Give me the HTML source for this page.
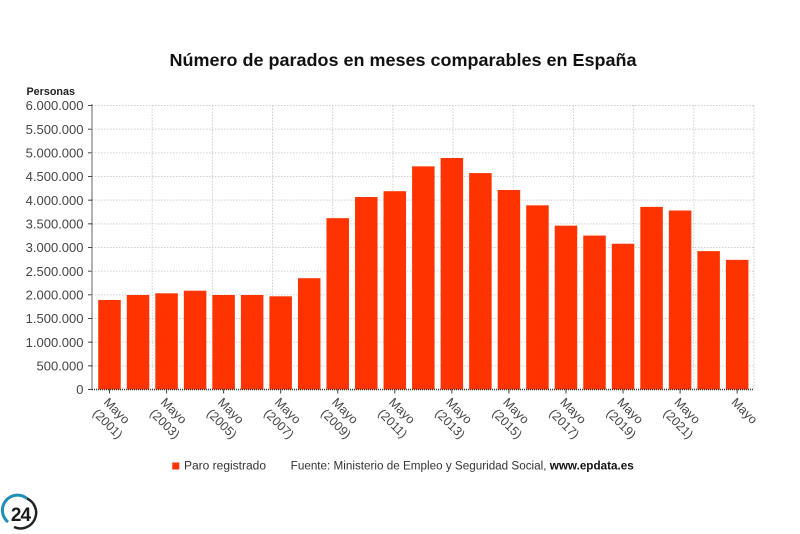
<!DOCTYPE html>
<html><head><meta charset="utf-8"><style>
html,body{margin:0;padding:0;background:#fff;}
svg{display:block;}
text{font-family:"Liberation Sans",sans-serif;}
</style></head><body>
<svg width="800" height="534" viewBox="0 0 800 534" xmlns="http://www.w3.org/2000/svg">
<rect width="800" height="534" fill="#fff"/>
<text x="403" y="66" text-anchor="middle" font-size="17.5" font-weight="bold" fill="#111" textLength="467" lengthAdjust="spacingAndGlyphs">Número de parados en meses comparables en España</text>
<text x="26.5" y="95" font-size="11" font-weight="bold" fill="#222" textLength="48.5" lengthAdjust="spacingAndGlyphs">Personas</text>
<g stroke="#cfcfcf" stroke-width="1" stroke-dasharray="1.5 1.5" fill="none">
<line x1="92" y1="105.5" x2="754" y2="105.5"/>
<line x1="92" y1="129.17" x2="754" y2="129.17"/>
<line x1="92" y1="152.83" x2="754" y2="152.83"/>
<line x1="92" y1="176.5" x2="754" y2="176.5"/>
<line x1="92" y1="200.17" x2="754" y2="200.17"/>
<line x1="92" y1="223.83" x2="754" y2="223.83"/>
<line x1="92" y1="247.5" x2="754" y2="247.5"/>
<line x1="92" y1="271.17" x2="754" y2="271.17"/>
<line x1="92" y1="294.83" x2="754" y2="294.83"/>
<line x1="92" y1="318.5" x2="754" y2="318.5"/>
<line x1="92" y1="342.17" x2="754" y2="342.17"/>
<line x1="92" y1="365.83" x2="754" y2="365.83"/>
<line x1="152.2" y1="105.5" x2="152.2" y2="389.5"/>
<line x1="212.4" y1="105.5" x2="212.4" y2="389.5"/>
<line x1="272.5" y1="105.5" x2="272.5" y2="389.5"/>
<line x1="332.7" y1="105.5" x2="332.7" y2="389.5"/>
<line x1="392.9" y1="105.5" x2="392.9" y2="389.5"/>
<line x1="453.1" y1="105.5" x2="453.1" y2="389.5"/>
<line x1="513.3" y1="105.5" x2="513.3" y2="389.5"/>
<line x1="573.5" y1="105.5" x2="573.5" y2="389.5"/>
<line x1="633.6" y1="105.5" x2="633.6" y2="389.5"/>
<line x1="693.8" y1="105.5" x2="693.8" y2="389.5"/>
<line x1="754" y1="105.5" x2="754" y2="389.5"/>
</g>
<g fill="#fe3300">
<rect x="98.25" y="300" width="22.5" height="89.5"/>
<rect x="126.78" y="295" width="22.5" height="94.5"/>
<rect x="155.31" y="293.3" width="22.5" height="96.2"/>
<rect x="183.84" y="290.7" width="22.5" height="98.8"/>
<rect x="212.37" y="295" width="22.5" height="94.5"/>
<rect x="240.9" y="295" width="22.5" height="94.5"/>
<rect x="269.43" y="296.3" width="22.5" height="93.2"/>
<rect x="297.96" y="278.2" width="22.5" height="111.3"/>
<rect x="326.49" y="218.15" width="22.5" height="171.35"/>
<rect x="355.02" y="197.03" width="22.5" height="192.47"/>
<rect x="383.55" y="191.19" width="22.5" height="198.31"/>
<rect x="412.08" y="166.37" width="22.5" height="223.13"/>
<rect x="440.61" y="158" width="22.5" height="231.5"/>
<rect x="469.14" y="173.08" width="22.5" height="216.42"/>
<rect x="497.67" y="189.99" width="22.5" height="199.51"/>
<rect x="526.2" y="205.31" width="22.5" height="184.19"/>
<rect x="554.73" y="225.67" width="22.5" height="163.83"/>
<rect x="583.26" y="235.57" width="22.5" height="153.93"/>
<rect x="611.79" y="243.74" width="22.5" height="145.76"/>
<rect x="640.32" y="206.9" width="22.5" height="182.6"/>
<rect x="668.85" y="210.52" width="22.5" height="178.98"/>
<rect x="697.38" y="251.15" width="22.5" height="138.35"/>
<rect x="725.91" y="259.85" width="22.5" height="129.65"/>
</g>
<g stroke="#333" stroke-width="1.5" stroke-dasharray="1 1" fill="none">
<line x1="92" y1="104.5" x2="92" y2="390"/>
<line x1="92" y1="389.5" x2="754" y2="389.5"/>
</g>
<g stroke="#444" stroke-width="1" fill="none">
<line x1="88" y1="105.5" x2="92" y2="105.5"/>
<line x1="88" y1="129.17" x2="92" y2="129.17"/>
<line x1="88" y1="152.83" x2="92" y2="152.83"/>
<line x1="88" y1="176.5" x2="92" y2="176.5"/>
<line x1="88" y1="200.17" x2="92" y2="200.17"/>
<line x1="88" y1="223.83" x2="92" y2="223.83"/>
<line x1="88" y1="247.5" x2="92" y2="247.5"/>
<line x1="88" y1="271.17" x2="92" y2="271.17"/>
<line x1="88" y1="294.83" x2="92" y2="294.83"/>
<line x1="88" y1="318.5" x2="92" y2="318.5"/>
<line x1="88" y1="342.17" x2="92" y2="342.17"/>
<line x1="88" y1="365.83" x2="92" y2="365.83"/>
<line x1="88" y1="389.5" x2="92" y2="389.5"/>
<line x1="109.5" y1="389.5" x2="109.5" y2="393.5"/>
<line x1="166.56" y1="389.5" x2="166.56" y2="393.5"/>
<line x1="223.62" y1="389.5" x2="223.62" y2="393.5"/>
<line x1="280.68" y1="389.5" x2="280.68" y2="393.5"/>
<line x1="337.74" y1="389.5" x2="337.74" y2="393.5"/>
<line x1="394.8" y1="389.5" x2="394.8" y2="393.5"/>
<line x1="451.86" y1="389.5" x2="451.86" y2="393.5"/>
<line x1="508.92" y1="389.5" x2="508.92" y2="393.5"/>
<line x1="565.98" y1="389.5" x2="565.98" y2="393.5"/>
<line x1="623.04" y1="389.5" x2="623.04" y2="393.5"/>
<line x1="680.1" y1="389.5" x2="680.1" y2="393.5"/>
<line x1="737.16" y1="389.5" x2="737.16" y2="393.5"/>
</g>
<g font-size="13" fill="#444" text-anchor="end">
<text x="83.5" y="110.2">6.000.000</text>
<text x="83.5" y="133.9">5.500.000</text>
<text x="83.5" y="157.5">5.000.000</text>
<text x="83.5" y="181.2">4.500.000</text>
<text x="83.5" y="204.9">4.000.000</text>
<text x="83.5" y="228.5">3.500.000</text>
<text x="83.5" y="252.2">3.000.000</text>
<text x="83.5" y="275.9">2.500.000</text>
<text x="83.5" y="299.5">2.000.000</text>
<text x="83.5" y="323.2">1.500.000</text>
<text x="83.5" y="346.9">1.000.000</text>
<text x="83.5" y="370.5">500.000</text>
<text x="83.5" y="394.2">0</text>
</g>
<g font-size="12.5" fill="#444">
<text transform="translate(103,403) rotate(45)"><tspan x="0" y="0">Mayo</tspan><tspan x="0" y="15.5">(2001)</tspan></text>
<text transform="translate(160.06,403) rotate(45)"><tspan x="0" y="0">Mayo</tspan><tspan x="0" y="15.5">(2003)</tspan></text>
<text transform="translate(217.12,403) rotate(45)"><tspan x="0" y="0">Mayo</tspan><tspan x="0" y="15.5">(2005)</tspan></text>
<text transform="translate(274.18,403) rotate(45)"><tspan x="0" y="0">Mayo</tspan><tspan x="0" y="15.5">(2007)</tspan></text>
<text transform="translate(331.24,403) rotate(45)"><tspan x="0" y="0">Mayo</tspan><tspan x="0" y="15.5">(2009)</tspan></text>
<text transform="translate(388.3,403) rotate(45)"><tspan x="0" y="0">Mayo</tspan><tspan x="0" y="15.5">(2011)</tspan></text>
<text transform="translate(445.36,403) rotate(45)"><tspan x="0" y="0">Mayo</tspan><tspan x="0" y="15.5">(2013)</tspan></text>
<text transform="translate(502.42,403) rotate(45)"><tspan x="0" y="0">Mayo</tspan><tspan x="0" y="15.5">(2015)</tspan></text>
<text transform="translate(559.48,403) rotate(45)"><tspan x="0" y="0">Mayo</tspan><tspan x="0" y="15.5">(2017)</tspan></text>
<text transform="translate(616.54,403) rotate(45)"><tspan x="0" y="0">Mayo</tspan><tspan x="0" y="15.5">(2019)</tspan></text>
<text transform="translate(673.6,403) rotate(45)"><tspan x="0" y="0">Mayo</tspan><tspan x="0" y="15.5">(2021)</tspan></text>
<text transform="translate(730.66,403) rotate(45)"><tspan x="0" y="0">Mayo</tspan></text>
</g>
<rect x="172.3" y="462.5" width="7" height="7" fill="#fe3300"/>
<text x="184" y="469.5" font-size="11.5" fill="#333" textLength="82" lengthAdjust="spacingAndGlyphs">Paro registrado</text>
<text x="290.7" y="469.5" font-size="11.5" fill="#333" textLength="343" lengthAdjust="spacingAndGlyphs">Fuente: Ministerio de Empleo y Seguridad Social, <tspan font-weight="bold" fill="#111">www.epdata.es</tspan></text>
<g>
<path d="M 8 522 A 15 15 0 0 1 27 498.5" stroke="#1f8fb5" stroke-width="3" fill="none"/>
<path d="M 27 498.5 A 15 15 0 0 1 14 527" stroke="#222" stroke-width="2.5" fill="none"/>
<text x="20.5" y="521" text-anchor="middle" font-size="19" font-weight="bold" fill="#1a1a1a" letter-spacing="-1">24</text>
</g>
</svg>
</body></html>
